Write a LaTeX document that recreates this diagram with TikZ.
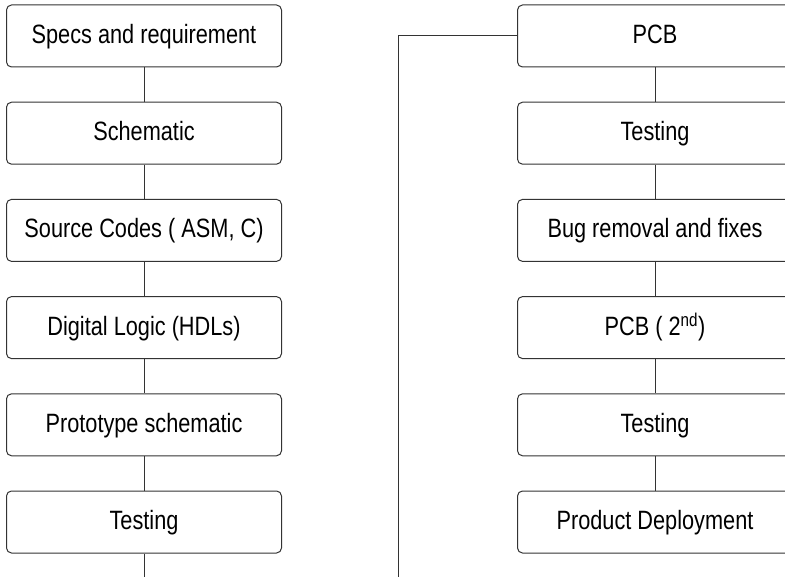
\documentclass[tikz,border=0pt]{standalone}
\usepackage{fontspec}
\setmainfont{Liberation Sans}[FakeStretch=0.82]
\usetikzlibrary{positioning}

\begin{document}
\begin{tikzpicture}[
    x=1pt, y=1pt,
    node distance=34.2pt,
    flowbox/.style={
        rectangle, rounded corners=5pt,
        minimum width=275pt, minimum height=62pt,
        text height=19pt, text depth=4pt,
        text centered, draw=black!80, fill=white,
        line width=1pt, font=\fontsize{26.5}{30}\selectfont
    },
    link/.style={
        line width=1pt, draw=black!80
    }
]

\clip (0,0) rectangle (785,-577);

% ===== Left column =====
\node[flowbox] (specs) at (144,-36) {Specs and requirement};
\node[flowbox, below=of specs]  (schem)  {Schematic};
\node[flowbox, below=of schem]  (code)   {Source Codes ( ASM, C)};
\node[flowbox, below=of code]   (hdl)    {Digital Logic (HDLs)};
\node[flowbox, below=of hdl]    (proto)  {Prototype schematic};
\node[flowbox, below=of proto]  (test1)  {Testing};
\coordinate (leftend) at (144,-577);

% ===== Right column =====
\node[flowbox] (pcb) at (655,-36) {PCB};
\node[flowbox, below=of pcb]    (test2)  {Testing};
\node[flowbox, below=of test2]  (bugs)   {Bug removal and fixes};
\node[flowbox, below=of bugs]   (pcb2)   {PCB ( 2\textsuperscript{nd})};
\node[flowbox, below=of pcb2]   (test3)  {Testing};
\node[flowbox, below=of test3]  (deploy) {Product Deployment};
\coordinate (bend) at (398,-36);
\coordinate (rightend) at (398,-577);

% ===== Connectors =====
\draw[link] (specs) -- (schem);
\draw[link] (schem) -- (code);
\draw[link] (code)  -- (hdl);
\draw[link] (hdl)   -- (proto);
\draw[link] (proto) -- (test1);
\draw[link] (test1) -- (leftend);

\draw[link] (pcb)   -- (test2);
\draw[link] (test2) -- (bugs);
\draw[link] (bugs)  -- (pcb2);
\draw[link] (pcb2)  -- (test3);
\draw[link] (test3) -- (deploy);
\draw[link] (pcb.west) -- (bend) -- (rightend);

\end{tikzpicture}
\end{document}
